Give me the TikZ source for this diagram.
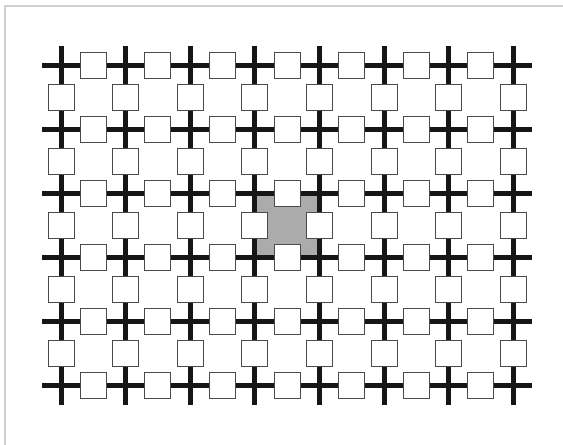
\documentclass[tikz,border=0pt]{standalone}
\usetikzlibrary{calc}
\definecolor{barcol}{HTML}{161616}
\definecolor{cellgray}{HTML}{ABABAB}
\definecolor{boxedge}{HTML}{4A4A4A}
\definecolor{framecol}{HTML}{CFCFCF}
\tikzset{
  frameline/.style={draw=framecol, line width=1.5pt},
  bar/.style={draw=barcol, line width=5pt, line cap=butt},
  shaded/.style={fill=cellgray},
  cellbox/.style={draw=boxedge, fill=white, line width=1pt, minimum width=26pt, minimum height=26pt, inner sep=0pt, outer sep=0pt}
}
\begin{document}
\begin{tikzpicture}[x=1pt,y=-1pt]
\useasboundingbox (0,0) rectangle (563,445);
\coordinate (fa) at (5,445);
\coordinate (fb) at (5,6);
\coordinate (fc) at (563,6);
\draw[frameline] (fa) -- (fb) -- (fc);
\foreach \i in {0,...,7}{
  \foreach \j in {0,...,5}{
    \coordinate (c-\i-\j) at ({61+\i*64.6},{65+\j*64.15});
  }
}
% shaded cell
\fill[shaded] (c-3-2) rectangle (c-4-3);
% thick bars
\foreach \j in {0,...,5}{
  \draw[bar] ([xshift=-19pt]c-0-\j) -- ([xshift=19pt]c-7-\j);
}
\foreach \i in {0,...,7}{
  \draw[bar] ([yshift=19pt]c-\i-0) -- ([yshift=-19pt]c-\i-5);
}
% boxes on horizontal edges
\foreach \i [evaluate=\i as \ip using int(\i+1)] in {0,...,6}{
  \foreach \j in {0,...,5}{
    \node[cellbox] (h-\i-\j) at ($(c-\i-\j)!0.5!(c-\ip-\j)$) {};
  }
}
% boxes on vertical edges
\foreach \i in {0,...,7}{
  \foreach \j [evaluate=\j as \jp using int(\j+1)] in {0,...,4}{
    \node[cellbox] (v-\i-\j) at ($(c-\i-\j)!0.5!(c-\i-\jp)$) {};
  }
}
\end{tikzpicture}
\end{document}
